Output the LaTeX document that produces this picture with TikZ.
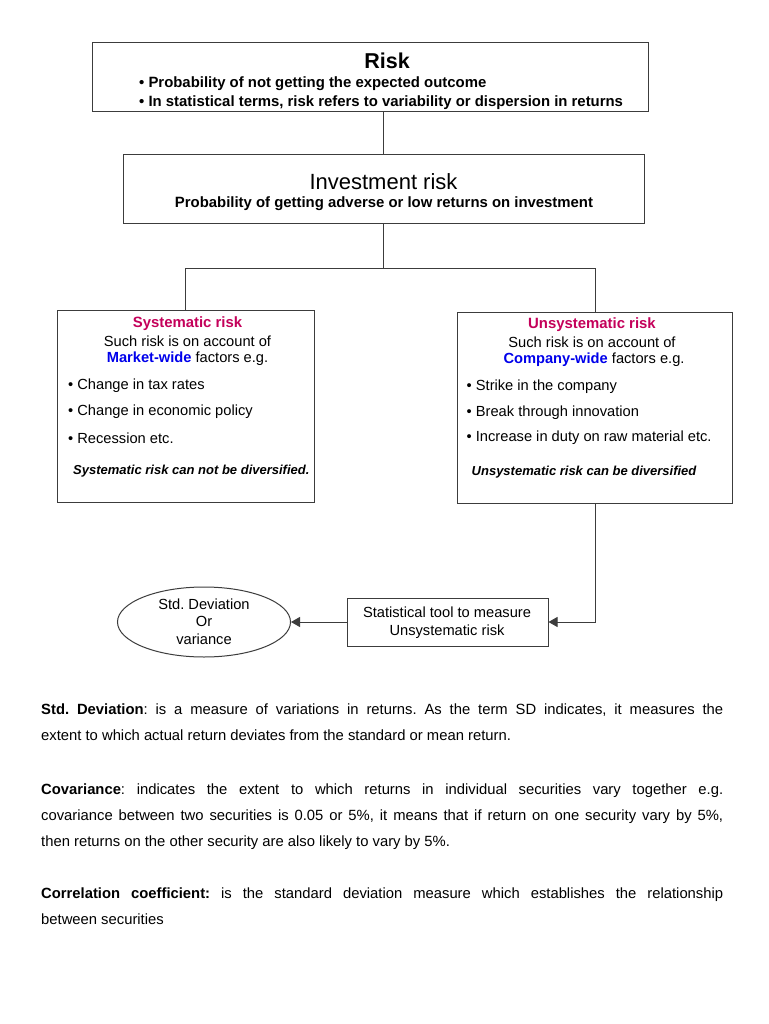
\documentclass[tikz,border=0pt]{standalone}
\usepackage{fontspec}
\setmainfont{Liberation Sans}
\usepackage{xcolor}
\usepackage{tikz}
\usetikzlibrary{arrows.meta, positioning, calc}
\usetikzlibrary{shapes.geometric}

\definecolor{titlered}{RGB}{196,0,90}
\definecolor{wideblue}{RGB}{0,0,235}
\definecolor{edgegray}{RGB}{60,60,60}

\tikzset{
  box/.style={draw=edgegray, line width=1pt, rectangle, inner sep=0pt},
  txt/.style={inner sep=0pt, font=\fontsize{14.67}{17}\selectfont},
  boldtxt/.style={inner sep=0pt, font=\bfseries\fontsize{14.9}{17}\selectfont},
  note/.style={inner sep=0pt, font=\bfseries\itshape\fontsize{13}{15}\selectfont},
  para/.style={inner sep=0pt, anchor=north west, text width=682pt, align=justify,
    font=\fontsize{14.8}{26}\selectfont},
  link/.style={draw=edgegray, line width=1pt},
  arr/.style={link, -{Triangle[length=9pt,width=10pt]}}
}

\begin{document}
\frenchspacing
\begin{tikzpicture}[x=1pt, y=-1pt]

  \useasboundingbox[fill=white] (0,0) rectangle (768,1024);

  % --- 1. Boxes ---
  \node[box, minimum width=556pt, minimum height=69pt] (risk) at (370,77.5) {};
  \node[box, minimum width=521pt, minimum height=69pt] (inv) at (383.5,189.5) {};
  \node[box, minimum width=257pt, minimum height=192pt] (sys) at (185.5,406) {};
  \node[box, minimum width=275pt, minimum height=191pt] (unsys) at (595,407.5) {};
  \node[box, minimum width=201pt, minimum height=48pt] (stat) at (447.5,622) {};
  \node[draw=edgegray, line width=1pt, ellipse, minimum width=173pt, minimum height=70pt,
    inner sep=0pt] (sd) at (204,622) {};

  % --- 2. Texts in the boxes ---
  \node[txt, font=\bfseries\fontsize{21.5}{24}\selectfont] at (387,61) {Risk};
  \node[boldtxt, anchor=west] at (139,83.5)
    {• Probability of not getting the expected outcome};
  \node[boldtxt, anchor=west] at (139,102.5)
    {• In statistical terms, risk refers to variability or dispersion in returns};

  \node[txt, font=\fontsize{22}{24}\selectfont] at (383.5,181.5) {Investment risk};
  \node[boldtxt] at (384,203.5)
    {Probability of getting adverse or low returns on investment};

  \node[boldtxt, text=titlered] at (187.5,324) {Systematic risk};
  \node[txt] at (187.5,341) {Such risk is on account of};
  \node[txt] at (187.5,359) {\textcolor{wideblue}{\bfseries Market-wide} factors e.g.};
  \node[txt, anchor=west] at (68,386) {• Change in tax rates};
  \node[txt, anchor=west] at (68,412) {• Change in economic policy};
  \node[txt, anchor=west] at (68,438) {• Recession etc.};
  \node[note, anchor=west] at (73,471) {Systematic risk can not be diversified.};

  \node[boldtxt, text=titlered] at (592,325) {Unsystematic risk};
  \node[txt] at (592,342) {Such risk is on account of};
  \node[txt] at (594,360) {\textcolor{wideblue}{\bfseries Company-wide} factors e.g.};
  \node[txt, anchor=west] at (466.5,387) {• Strike in the company};
  \node[txt, anchor=west] at (466.5,413) {• Break through innovation};
  \node[txt, anchor=west] at (466.5,438) {• Increase in duty on raw material etc.};
  \node[note, anchor=west] at (471.5,472) {Unsystematic risk can be diversified};

  \node[txt, align=center, font=\fontsize{14.67}{17.5}\selectfont] at (447,622.5)
    {Statistical tool to measure\\Unsystematic risk};
  \node[txt, align=center, font=\fontsize{14.67}{17.5}\selectfont] at (204,621.5)
    {Std. Deviation\\Or\\variance};

  % --- 3. Connectors ---
  \coordinate (split) at (383.5,268);
  \draw[link] (inv.north) -- (inv.north |- risk.south);
  \draw[link] (inv.south) -- (split);
  \draw[link] (sys.north) -- (sys.north |- split) -- (unsys.north |- split) -- (unsys.north);
  \draw[arr] (unsys.south) |- (stat.east);
  \draw[arr] (stat.west) -- (sd.east);

  % --- 4. Notes below ---
  \node[para] (sdtext) at (41,703.5)
    {\textbf{Std. Deviation}: is a measure of variations in returns. As the term SD indicates, it measures the\linebreak extent to which actual return deviates from the standard or mean return.};
  \node[para] (covtext) at (41,783.5)
    {\textbf{Covariance}: indicates the extent to which returns in individual securities vary together e.g.\linebreak covariance between two securities is 0.05 or 5\%, it means that if return on one security vary by 5\%,\linebreak then returns on the other security are also likely to vary by 5\%.};
  \node[para] (cortext) at (41,887.5)
    {\textbf{Correlation coefficient:} is the standard deviation measure which establishes the relationship\linebreak between securities};

\end{tikzpicture}
\end{document}
